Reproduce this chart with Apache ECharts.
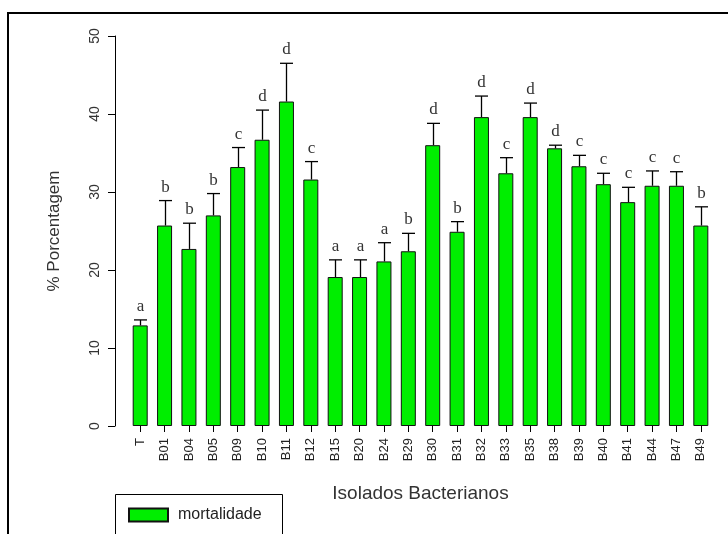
<!DOCTYPE html>
<html>
<head>
<meta charset="utf-8">
<script src="https://cdn.jsdelivr.net/npm/echarts@6/dist/echarts.min.js"></script>
<style>
html,body{margin:0;padding:0;background:#fff;}
#main{width:728px;height:534px;}
</style>
</head>
<body>
<div id="main"></div>
<script>
var categories = ['T','B01','B04','B05','B09','B10','B11','B12','B15','B20','B24','B29','B30','B31','B32','B33','B35','B38','B39','B40','B41','B44','B47','B49'];
var mortality = [12.9,25.7,22.7,27.0,33.2,36.7,41.6,31.6,19.1,19.1,21.1,22.4,36.0,24.9,39.6,32.4,39.6,35.6,33.3,31.0,28.7,30.8,30.8,25.7];
var errorUpper = [13.6,28.9,26.0,29.8,35.7,40.5,46.5,33.9,21.3,21.3,23.5,24.7,38.8,26.2,42.3,34.4,41.4,36.0,34.7,32.4,30.6,32.7,32.6,28.1];
var letters = ['a','b','b','b','c','d','d','c','a','a','a','b','d','b','d','c','d','d','c','c','c','c','c','b'];
var yTicks = {min: 0, max: 50, interval: 10};

var errData = categories.map(function (c, i) { return [i, mortality[i], errorUpper[i], letters[i]]; });

var chart = echarts.init(document.getElementById('main'), null, {renderer: 'canvas'});
chart.setOption({
  backgroundColor: '#fff',
  animation: false,
  grid: {left: 128, right: 15, top: 36, bottom: 108, containLabel: false},
  legend: {
    show: true,
    left: 128, top: 507,
    data: ['mortalidade'],
    icon: 'rect',
    itemWidth: 39, itemHeight: 13,
    itemGap: 10,
    padding: 0,
    textStyle: {fontFamily: 'Liberation Sans', fontSize: 16, color: '#222', padding: [0, 0, 0, 5]}
  },
  xAxis: {
    type: 'category',
    data: categories,
    name: 'Isolados Bacterianos',
    nameLocation: 'middle',
    nameGap: 58,
    nameTextStyle: {fontFamily: 'Liberation Sans', fontSize: 19, color: '#333'},
    axisLine: {show: false},
    axisTick: {show: true, alignWithLabel: true, length: 6, lineStyle: {color: '#000', width: 1}},
    axisLabel: {rotate: 90, margin: 12, fontFamily: 'Liberation Sans', fontSize: 13, color: '#222', interval: 0}
  },
  yAxis: {
    type: 'value',
    min: yTicks.min, max: yTicks.max, interval: yTicks.interval,
    offset: 13,
    name: '% Porcentagem',
    nameLocation: 'middle',
    nameRotate: 90,
    nameGap: 52,
    nameTextStyle: {fontFamily: 'Liberation Sans', fontSize: 17, color: '#333'},
    axisLine: {show: true, lineStyle: {color: '#000', width: 1}},
    axisTick: {show: true, length: 7, lineStyle: {color: '#000', width: 1}},
    axisLabel: {rotate: 90, margin: 13, fontFamily: 'Liberation Sans', fontSize: 14, color: '#333'},
    splitLine: {show: false}
  },
  graphic: [
    {type: 'rect', shape: {x: 8, y: 13, width: 760, height: 600}, style: {fill: 'none', stroke: '#000', lineWidth: 2}, z: 100},
    {type: 'rect', shape: {x: 115.5, y: 494.5, width: 167, height: 45}, style: {fill: 'none', stroke: '#000', lineWidth: 1}, z: 100}
  ],
  series: [
    {
      name: 'mortalidade',
      type: 'bar',
      data: mortality,
      barWidth: 15,
      itemStyle: {color: '#00ee00', borderColor: '#111', borderWidth: 1}
    },
    {
      name: 'err',
      type: 'custom',
      data: errData,
      z: 5,
      renderItem: function (params, api) {
        var top = api.coord([api.value(0), api.value(2)]);
        var base = api.coord([api.value(0), api.value(1)]);
        var x = Math.round(top[0]) + 0.5;
        return {
          type: 'group',
          children: [
            {type: 'line', shape: {x1: x, y1: base[1], x2: x, y2: top[1]}, style: {stroke: '#000', lineWidth: 1.3}},
            {type: 'line', shape: {x1: x - 6.5, y1: top[1], x2: x + 6.5, y2: top[1]}, style: {stroke: '#000', lineWidth: 1.3}},
            {type: 'text', style: {text: letters[params.dataIndex], x: x, y: top[1] - 5, textAlign: 'center', textVerticalAlign: 'bottom', fontFamily: 'Liberation Serif', fontSize: 17, fill: '#333'}}
          ]
        };
      }
    }
  ]
});
</script>
</body>
</html>
